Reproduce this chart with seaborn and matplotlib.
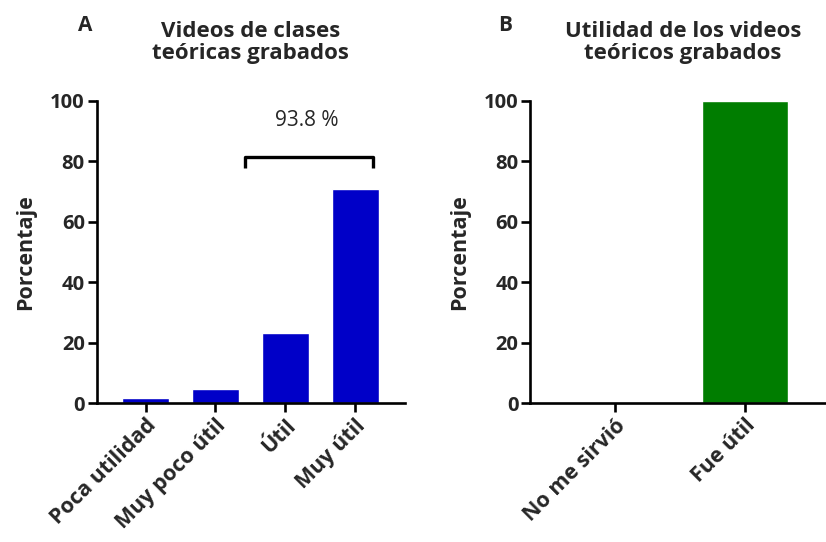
import numpy as np
import pandas as pd
import seaborn as sns
import matplotlib.pyplot as plt

# data
cats_a = ["Poca utilidad", "Muy poco útil", "Útil", "Muy útil"]
vals_a = [1.6, 4.6, 23.1, 70.7]
cats_b = ["No me sirvió", "Fue útil"]
vals_b = [0.0, 100.0]
bracket_label = "93.8 %"

sns.set_theme(style="ticks")
plt.rcParams["font.family"] = ["Open Sans", "DejaVu Sans"]
plt.rcParams["font.weight"] = "bold"

fig = plt.figure(figsize=(8.26, 5.42), dpi=100)
ax_a = fig.add_axes([0.117, 0.256, 0.373, 0.558])
ax_b = fig.add_axes([0.642, 0.256, 0.37, 0.558])

df_a = pd.DataFrame({"cat": cats_a, "val": vals_a})
df_b = pd.DataFrame({"cat": cats_b, "val": vals_b})

sns.barplot(data=df_a, x="cat", y="val", color="#0000c8", saturation=1,
            width=0.67, ax=ax_a)
sns.barplot(data=df_b, x="cat", y="val", color="#007d00", saturation=1,
            width=0.66, ax=ax_b)

def style(ax, xlim):
    ax.set_ylim(0, 100)
    ax.set_xlim(*xlim)
    ax.set_yticks([0, 20, 40, 60, 80, 100])
    ax.set_xlabel("")
    ax.set_ylabel("Porcentaje", fontsize=15.5, fontweight="bold", labelpad=10)
    for s in ["top", "right"]:
        ax.spines[s].set_visible(False)
    for s in ["left", "bottom"]:
        ax.spines[s].set_linewidth(1.9)
        ax.spines[s].set_color("black")
    ax.tick_params(axis="both", width=1.9, length=6.5, color="black", pad=2)
    for lab in ax.get_yticklabels():
        lab.set_fontweight("bold")
        lab.set_fontsize(14.5)
    for lab in ax.get_xticklabels():
        lab.set_fontweight("bold")
        lab.set_fontsize(15.5)
        lab.set_rotation(45)
        lab.set_ha("right")
        lab.set_rotation_mode("anchor")

style(ax_a, (-0.7, 3.71))
style(ax_b, (-0.65, 1.70))

# bracket over Útil / Muy útil
ax_a.plot([1.43, 1.43, 3.26, 3.26], [77.8, 81.5, 81.5, 77.8], color="black",
          lw=2.4, clip_on=False, solid_capstyle="butt")
ax_a.text(2.31, 93.5, bracket_label, ha="center", va="center", fontsize=15,
          fontweight="normal")

ax_a.set_title("Videos de clases\nteóricas grabados", fontsize=16,
               fontweight="bold", pad=30, linespacing=1.05)
ax_b.set_title("Utilidad de los videos\nteóricos grabados", fontsize=16,
               fontweight="bold", pad=30, linespacing=1.05)
fig.text(0.103, 0.953, "A", fontsize=15, fontweight="bold", ha="center", va="center")
fig.text(0.612, 0.953, "B", fontsize=15, fontweight="bold", ha="center", va="center")

fig.savefig("out.png", dpi=100)
